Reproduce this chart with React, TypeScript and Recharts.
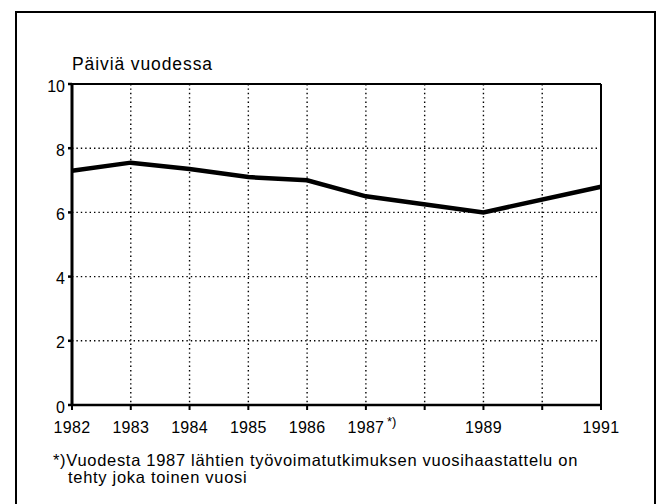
import React from 'react';
import { LineChart, Line, XAxis, YAxis, CartesianGrid, ReferenceLine } from 'recharts';

const years = [1982, 1983, 1984, 1985, 1986, 1987, 1989, 1991];
const daysPerYear = [7.3, 7.55, 7.35, 7.1, 7.0, 6.5, 6.0, 6.8];
const xTicks = [1982, 1983, 1984, 1985, 1986, 1987, 1988, 1989, 1990, 1991];
const xLabelled = [1982, 1983, 1984, 1985, 1986, 1987, 1989, 1991];
const yTicks = [0, 2, 4, 6, 8, 10];

const data = years.map((year, i) => ({ year, value: daysPerYear[i] }));

const FONT = '"Liberation Sans", Arial, Helvetica, sans-serif';

const YearTick = (props: any) => {
  const { x, y, payload } = props;
  const year = payload.value as number;
  if (!xLabelled.includes(year)) return null;
  return (
    <g>
      <text x={x} y={y} dy="0.71em" textAnchor="middle" fontSize={16} letterSpacing={0.3} fontFamily={FONT} fill="#000">
        {year}
      </text>
      {year === 1987 && (
        <text x={x + 21} y={y - 5} dy="0.71em" textAnchor="start" fontSize={13} fontFamily={FONT} fill="#000">
          *)
        </text>
      )}
    </g>
  );
};

const DayTick = (props: any) => {
  const { x, y, payload } = props;
  return (
    <text x={x} y={y + 2} dy="0.355em" textAnchor="end" fontSize={16} fontFamily={FONT} fill="#000">
      {payload.value}
    </text>
  );
};

export default function App() {
  return (
    <div style={{ position: 'absolute', left: 0, top: 0, width: 659, height: 504, background: '#fff', overflow: 'hidden', fontFamily: FONT, color: '#000' }}>
      {/* outer frame, bottom edge runs off the page */}
      <div style={{ position: 'absolute', left: 15, top: 11, width: 637, height: 520, borderTop: '2px solid #000', borderLeft: '2px solid #000', borderRight: '2px solid #000' }} />

      <div style={{ position: 'absolute', left: 72, top: 54, fontSize: 17.5, letterSpacing: 0.9, lineHeight: '20px' }}>Päiviä vuodessa</div>

      <div style={{ position: 'absolute', left: 0, top: 0 }}>
        <LineChart width={659} height={504} data={data} margin={{ top: 84, right: 58, bottom: 69, left: 32 }}>
          <CartesianGrid stroke="#000" strokeWidth={1.4} strokeDasharray="1.4 3" />
          <XAxis
            dataKey="year"
            type="number"
            domain={[1982, 1991]}
            ticks={xTicks}
            interval={0}
            height={30}
            tickSize={5}
            tickMargin={12}
            tick={<YearTick />}
            axisLine={{ stroke: '#000', strokeWidth: 2.5 }}
            tickLine={{ stroke: '#000', strokeWidth: 2 }}
          />
          <YAxis
            type="number"
            domain={[0, 10]}
            ticks={yTicks}
            interval={0}
            width={40}
            tickSize={4}
            tickMargin={3}
            tick={<DayTick />}
            axisLine={{ stroke: '#000', strokeWidth: 3 }}
            tickLine={{ stroke: '#000', strokeWidth: 2.5 }}
          />
          <ReferenceLine y={10} stroke="#000" strokeWidth={2} />
          <ReferenceLine x={1991} stroke="#000" strokeWidth={2} />
          <Line
            type="linear"
            dataKey="value"
            stroke="#000"
            strokeWidth={4.5}
            dot={false}
            isAnimationActive={false}
          />
        </LineChart>
      </div>

      <div style={{ position: 'absolute', left: 53, top: 452, fontSize: 16.5, letterSpacing: 0.7, lineHeight: '17px' }}>
        *)Vuodesta 1987 lähtien työvoimatutkimuksen vuosihaastattelu on
      </div>
      <div style={{ position: 'absolute', left: 68, top: 469, fontSize: 16.5, letterSpacing: 0.7, lineHeight: '17px' }}>
        tehty joka toinen vuosi
      </div>
    </div>
  );
}
